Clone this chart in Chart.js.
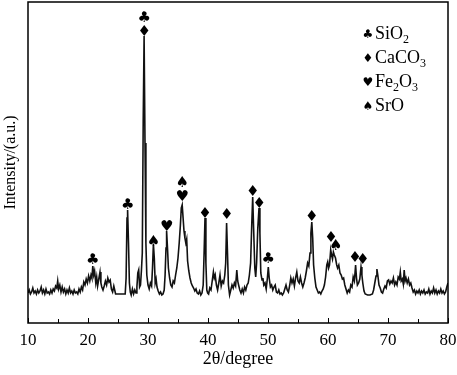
<!DOCTYPE html>
<html>
<head>
<meta charset="utf-8">
<script src="https://cdn.jsdelivr.net/npm/chart.js@4.4.1/dist/chart.umd.min.js"></script>
<style>
  html, body { margin: 0; padding: 0; background: #fff; }
  #wrap { width: 457px; height: 375px; }
</style>
</head>
<body>
<div id="wrap"><canvas id="xrd"></canvas></div>
<script>
// 2θ positions (degree) and intensity (a.u.)
const twoTheta = [
  10.0,10.2,10.4,10.6,10.8,11.0,11.2,11.4,11.6,11.8,
  12.0,12.2,12.4,12.6,12.8,13.0,13.2,13.4,13.6,13.8,
  14.0,14.2,14.4,14.6,14.8,14.95,15.1,15.3,15.5,15.7,
  15.9,16.1,16.3,16.5,16.7,16.9,17.1,17.3,17.5,17.7,
  17.9,18.1,18.3,18.5,18.7,18.9,19.1,19.3,19.5,19.7,
  19.9,20.1,20.3,20.5,20.65,20.8,20.95,21.1,21.3,21.45,
  21.6,21.8,22.0,22.15,22.3,22.5,22.7,22.9,23.1,23.3,
  23.5,23.7,23.9,24.1,24.3,24.45,24.6,26.2,26.35,26.5,
  26.6,26.75,26.9,27.05,27.2,27.4,27.6,27.8,28.0,28.15,
  28.3,28.45,28.6,28.75,28.9,29.05,29.2,29.35,29.5,29.65,
  29.8,30.0,30.2,30.4,30.6,30.75,30.9,31.05,31.2,31.35,
  31.5,31.7,31.9,32.1,32.3,32.5,32.7,32.85,33.0,33.1,
  33.25,33.4,33.6,33.8,34.0,34.2,34.4,34.6,34.8,35.0,
  35.2,35.4,35.55,35.7,35.85,36.0,36.15,36.3,36.45,36.6,
  36.8,37.0,37.2,37.4,37.6,37.8,38.0,38.2,38.4,38.6,
  38.8,39.0,39.2,39.35,39.5,39.65,39.8,39.95,40.1,40.3,
  40.5,40.7,40.9,41.05,41.2,41.4,41.6,41.8,42.0,42.2,
  42.4,42.6,42.8,42.95,43.1,43.25,43.4,43.6,43.8,44.0,
  44.2,44.4,44.6,44.8,44.95,45.1,45.3,45.5,45.7,45.9,
  46.1,46.3,46.5,46.7,46.9,47.1,47.3,47.45,47.6,47.8,
  47.95,48.1,48.3,48.5,48.65,48.8,49.0,49.15,49.3,49.5,
  49.7,49.9,50.05,50.2,50.4,50.6,50.8,51.0,51.2,51.4,
  51.6,51.8,52.0,52.2,52.4,52.6,52.8,53.0,53.2,53.4,
  53.6,53.8,54.0,54.2,54.4,54.6,54.8,55.0,55.2,55.4,
  55.6,55.8,56.0,56.2,56.4,56.6,56.8,57.0,57.15,57.3,
  57.45,57.6,57.8,58.0,58.2,58.4,58.6,58.8,59.0,59.2,
  59.4,59.6,59.8,59.95,60.1,60.25,60.45,60.6,60.75,60.9,
  61.05,61.25,61.45,61.6,61.8,62.0,62.2,62.4,62.6,62.8,
  63.0,63.2,63.4,63.6,63.8,64.0,64.2,64.4,64.6,64.75,
  64.9,65.1,65.3,65.5,65.65,65.8,66.0,66.2,66.6,67.0,
  67.4,67.6,67.8,68.0,68.15,68.3,68.5,68.7,68.9,69.1,
  69.3,69.5,69.7,69.9,70.1,70.3,70.5,70.7,70.9,71.1,
  71.3,71.5,71.7,71.9,72.05,72.2,72.4,72.55,72.7,72.85,
  73.0,73.2,73.4,73.6,73.8,74.0,74.2,74.4,74.6,74.8,
  75.0,75.2,75.4,75.6,75.8,76.0,76.2,76.4,76.6,76.8,
  77.0,77.2,77.4,77.6,77.8,78.0,78.2,78.4,78.6,78.8,
  79.0,79.2,79.4,79.6,79.8,80.0
];
const intensity = [
  30,33,29,31,35,30,32,29,33,30,
  32,36,30,33,29,34,30,31,29,33,
  30,34,32,37,35,42,34,38,31,36,
  31,34,29,33,30,35,30,32,29,33,
  30,31,29,34,31,36,33,41,38,44,
  40,47,42,48,45,57,48,52,40,46,
  37,44,51,40,36,33,37,42,38,45,
  41,43,34,31,37,33,29,29,45,105,
  113,80,40,31,28,34,29,33,30,36,
  50,53,36,38,52,70,200,287,180,80,
  48,38,34,40,37,55,79,65,40,44,
  36,32,29,31,28,29,33,48,75,92,
  75,55,45,38,36,42,40,48,55,65,
  80,98,115,118,105,92,85,80,84,62,
  52,45,40,37,35,32,34,30,29,32,
  28,30,38,70,105,60,33,30,29,35,
  33,42,51,45,48,38,33,40,48,37,
  42,40,48,60,100,70,38,28,33,38,
  35,40,37,53,42,38,33,30,34,30,
  36,33,38,40,48,60,100,126,95,55,
  46,60,95,115,90,50,43,45,38,40,
  34,45,56,45,36,38,33,36,38,31,
  30,33,29,30,28,30,34,38,33,31,
  37,45,40,44,37,45,51,42,40,46,
  40,36,40,45,52,60,57,70,90,101,
  85,58,45,36,33,30,31,29,32,34,
  38,46,58,61,55,58,73,68,64,71,
  68,65,58,55,58,50,48,44,45,38,
  34,30,33,31,38,36,46,42,58,45,
  38,40,44,56,48,40,32,29,28,28,
  29,33,40,47,54,48,38,35,31,30,
  34,37,35,42,43,39,42,40,45,38,
  41,38,46,44,51,42,44,39,53,42,
  45,40,44,38,40,35,31,33,29,32,
  30,33,29,32,30,33,29,31,30,34,
  29,32,30,35,30,33,29,32,30,34,
  30,32,29,31,36,40
];

// phase identification marks
const phaseSymbols = ["\u2663", "\u2666", "\u2665", "\u2660"];
const phaseNames = ["SiO2", "CaCO3", "Fe2O3", "SrO"];
const markTheta = [20.8, 26.6, 29.35, 29.35, 30.9, 33.1, 35.7, 35.7, 39.5, 43.1, 47.45, 48.55, 50.05, 57.3, 60.5, 61.3, 64.5, 65.8];
const markLevel = [63, 118, 305, 291, 81, 96, 140, 126, 109, 108, 131, 119, 64, 106, 85, 77, 65, 63];
const markPhase = [0, 0, 0, 1, 3, 2, 3, 2, 1, 1, 1, 1, 0, 1, 1, 3, 1, 1];

const serif = "'Liberation Serif', 'Times New Roman', serif";

const decorations = {
  id: "decorations",
  afterDatasetsDraw(chart) {
    const { ctx, chartArea: a, scales: { x, y } } = chart;
    ctx.save();
    ctx.strokeStyle = "#000";
    ctx.lineWidth = 1.5;
    ctx.strokeRect(a.left, a.top, a.right - a.left, a.bottom - a.top);

    // inward ticks on the bottom axis
    ctx.lineWidth = 1;
    for (let v = 10; v <= 80; v += 5) {
      const px = Math.round(x.getPixelForValue(v)) + 0.5;
      const len = v % 10 === 0 ? 5 : 4;
      ctx.beginPath();
      ctx.moveTo(px, a.bottom);
      ctx.lineTo(px, a.bottom - len);
      ctx.stroke();
    }

    // peak marks
    ctx.fillStyle = "#000";
    ctx.font = "15px 'DejaVu Sans'";
    ctx.textAlign = "center";
    ctx.textBaseline = "middle";
    markTheta.forEach((t, i) => {
      ctx.fillText(phaseSymbols[markPhase[i]], x.getPixelForValue(t), y.getPixelForValue(markLevel[i]));
    });

    // legend with subscripted digits
    const symX = a.right - 80;
    phaseNames.forEach((name, i) => {
      const rowY = a.top + 31 + i * 24;
      ctx.font = "12px 'DejaVu Sans'";
      ctx.textAlign = "center";
      ctx.textBaseline = "alphabetic";
      ctx.fillText(phaseSymbols[i], symX, rowY + 5);
      ctx.textAlign = "left";
      let cx = symX + 7;
      for (const ch of name) {
        const sub = ch >= "0" && ch <= "9";
        ctx.font = sub ? "12px " + serif : "18px " + serif;
        ctx.fillText(ch, cx, sub ? rowY + 10 : rowY + 6);
        cx += ctx.measureText(ch).width;
      }
    });
    ctx.restore();
  }
};

new Chart(document.getElementById("xrd"), {
  type: "line",
  data: {
    datasets: [{
      data: twoTheta.map((t, i) => ({ x: t, y: intensity[i] })),
      borderColor: "#111",
      borderWidth: 1.6,
      pointRadius: 0,
      tension: 0
    }]
  },
  options: {
    responsive: true,
    maintainAspectRatio: false,
    animation: false,
    devicePixelRatio: 1,
    layout: { padding: { top: 2, right: 9, left: 0, bottom: 0 } },
    plugins: { legend: { display: false }, tooltip: { enabled: false } },
    scales: {
      x: {
        type: "linear",
        min: 10,
        max: 80,
        grid: { display: false, drawTicks: false },
        border: { display: false },
        ticks: { stepSize: 10, color: "#000", padding: 7, font: { family: serif, size: 17 } },
        title: { display: true, text: "2\u03b8/degree", color: "#000", padding: { top: 0, bottom: 5 }, font: { family: serif, size: 18 } },
        afterFit: (s) => { s.height = 52; s.paddingLeft = 0; s.paddingRight = 0; }
      },
      y: {
        min: 0,
        max: 321,
        grid: { display: false, drawTicks: false },
        border: { display: false },
        ticks: { display: false },
        title: { display: true, text: "Intensity/(a.u.)", color: "#000", padding: { top: 1, bottom: 0 }, font: { family: serif, size: 16 } },
        afterFit: (s) => { s.width = 28; }
      }
    }
  },
  plugins: [decorations]
});
</script>
</body>
</html>
